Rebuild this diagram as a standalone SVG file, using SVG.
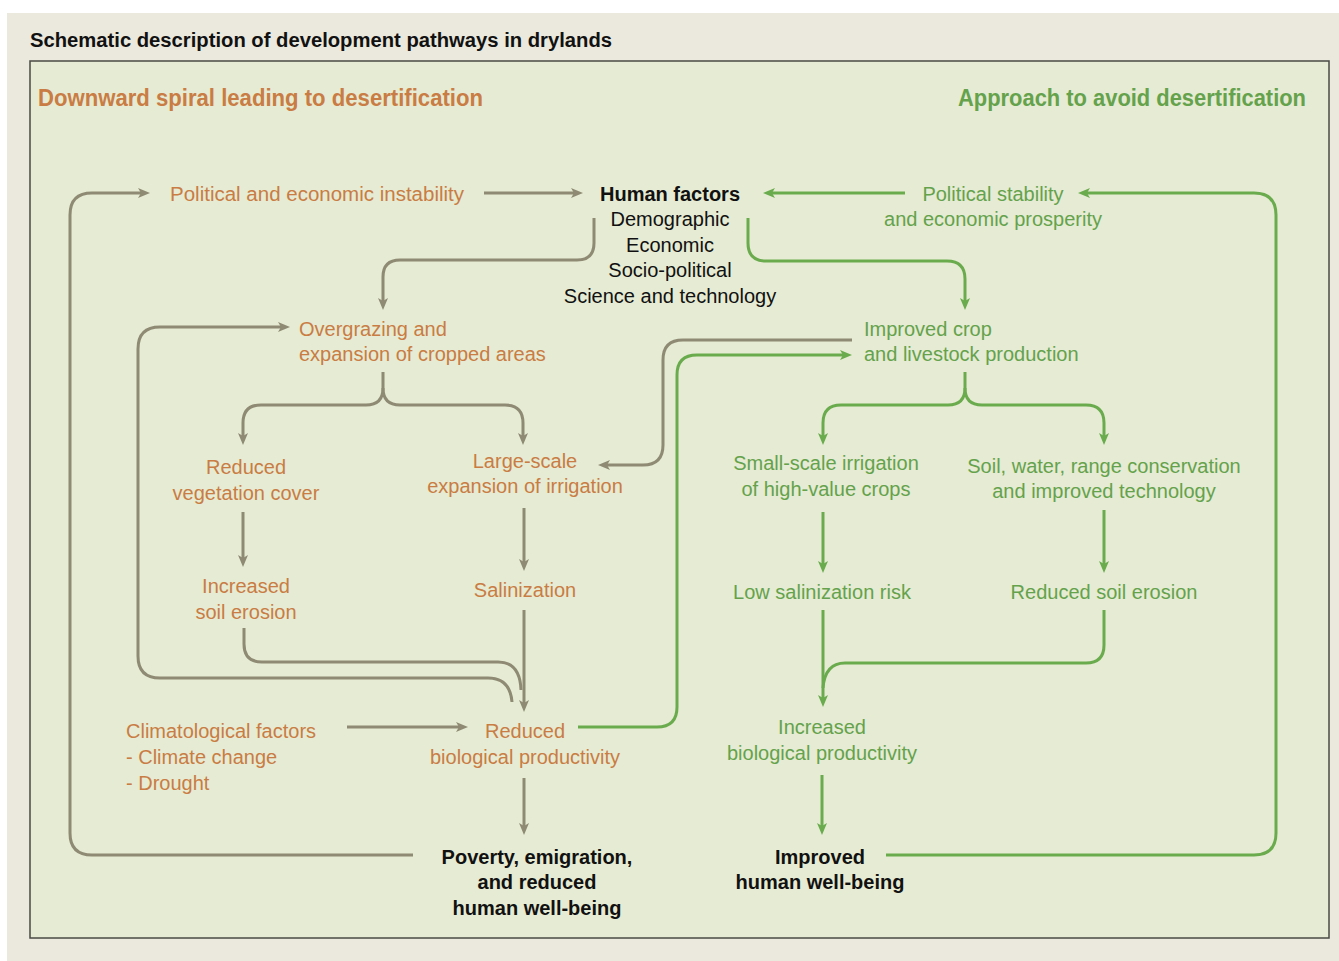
<svg xmlns="http://www.w3.org/2000/svg" width="1339" height="961" viewBox="0 0 1339 961">
<defs>
<style>
.t{font-family:"Liberation Sans",Arial,sans-serif;font-size:20px}
.o{fill:#c97c43}
.gt{fill:#64a24c}
.k{fill:#111}
.b{font-weight:bold}
.m{text-anchor:middle}
.cg{fill:none;stroke:#8e8a73;stroke-width:3}
.cn{fill:none;stroke:#6aab4e;stroke-width:3}
</style>
<marker id="ag" viewBox="0 0 12 10" refX="4" refY="5" markerWidth="12" markerHeight="10" markerUnits="userSpaceOnUse" orient="auto"><path d="M0,0 L12,5 L0,10 L3,5 z" fill="#8e8a73"/></marker>
<marker id="an" viewBox="0 0 12 10" refX="4" refY="5" markerWidth="12" markerHeight="10" markerUnits="userSpaceOnUse" orient="auto"><path d="M0,0 L12,5 L0,10 L3,5 z" fill="#6aab4e"/></marker>
</defs>
<rect x="7" y="13" width="1332" height="948" fill="#ebe9dd"/>
<rect x="30" y="61" width="1299" height="877" fill="#e6ebd3" stroke="#4a4a44" stroke-width="1.5"/>
<text class="t b k" x="30" y="47" textLength="582" lengthAdjust="spacingAndGlyphs">Schematic description of development pathways in drylands</text>
<text class="t b o" x="38" y="106" style="font-size:23px" textLength="445" lengthAdjust="spacingAndGlyphs">Downward spiral leading to desertification</text>
<text class="t b gt" x="958" y="106" style="font-size:23px" textLength="348" lengthAdjust="spacingAndGlyphs">Approach to avoid desertification</text>

<g id="connectors">
<path class="cg" d="M413,855 H92 Q70,855 70,833 V215 Q70,193 92,193 H142" marker-end="url(#ag)"/>
<path class="cg" d="M484,193 H575" marker-end="url(#ag)"/>
<path class="cg" d="M594,218 V243 Q594,260 577,260 H400 Q383,260 383,277 V302" marker-end="url(#ag)"/>
<path class="cg" d="M512,702 Q510,678 488,678 H160 Q138,678 138,656 V349 Q138,327 160,327 H282" marker-end="url(#ag)"/>
<path class="cg" d="M244,628 V644 Q244,662 262,662 H498 Q520,662 521,690"/>
<path class="cg" d="M524,610 V704" marker-end="url(#ag)"/>
<path class="cg" d="M383,372 V388 Q383,405 366,405 H261 Q243,405 243,423 V437" marker-end="url(#ag)"/>
<path class="cg" d="M383,388 Q383,405 400,405 H505 Q523,405 523,423 V437" marker-end="url(#ag)"/>
<path class="cg" d="M243,512 V559" marker-end="url(#ag)"/>
<path class="cg" d="M524,508 V563" marker-end="url(#ag)"/>
<path class="cg" d="M852,340 H683 Q663,340 663,360 V445 Q663,465 643,465 H606" marker-end="url(#ag)"/>
<path class="cg" d="M347,727 H460" marker-end="url(#ag)"/>
<path class="cg" d="M524,778 V827" marker-end="url(#ag)"/>

<path class="cn" d="M905,193 H771" marker-end="url(#an)"/>
<path class="cn" d="M886,855 H1254 Q1276,855 1276,833 V215 Q1276,193 1254,193 H1086" marker-end="url(#an)"/>
<path class="cn" d="M748,218 V243 Q748,261 766,261 H947 Q965,261 965,279 V302" marker-end="url(#an)"/>
<path class="cn" d="M965,372 V388 Q965,405 948,405 H841 Q823,405 823,423 V437" marker-end="url(#an)"/>
<path class="cn" d="M965,388 Q965,405 982,405 H1086 Q1104,405 1104,423 V437" marker-end="url(#an)"/>
<path class="cn" d="M823,512 V565" marker-end="url(#an)"/>
<path class="cn" d="M1104,510 V565" marker-end="url(#an)"/>
<path class="cn" d="M823,610 V699" marker-end="url(#an)"/>
<path class="cn" d="M1104,610 V645 Q1104,663 1086,663 H845 Q825,663 823,688"/>
<path class="cn" d="M822,775 V827" marker-end="url(#an)"/>
<path class="cn" d="M578,727 H657 Q677,727 677,707 V375 Q677,355 697,355 H844" marker-end="url(#an)"/>
</g>

<g id="n-political-instability"><text class="t o" x="170" y="201" textLength="294" lengthAdjust="spacingAndGlyphs">Political and economic instability</text></g>
<g id="n-human-factors">
<text class="t k m b" x="670" y="201">Human factors</text>
<text class="t k m" x="670" y="226">Demographic</text>
<text class="t k m" x="670" y="252">Economic</text>
<text class="t k m" x="670" y="277">Socio-political</text>
<text class="t k m" x="670" y="303">Science and technology</text>
</g>
<g id="n-political-stability">
<text class="t gt m" x="993" y="201">Political stability</text>
<text class="t gt m" x="993" y="226">and economic prosperity</text>
</g>
<g id="n-overgrazing">
<text class="t o" x="299" y="336">Overgrazing and</text>
<text class="t o" x="299" y="361">expansion of cropped areas</text>
</g>
<g id="n-improved-crop">
<text class="t gt" x="864" y="336">Improved crop</text>
<text class="t gt" x="864" y="361">and livestock production</text>
</g>
<g id="n-reduced-vegetation">
<text class="t o m" x="246" y="474">Reduced</text>
<text class="t o m" x="246" y="500">vegetation cover</text>
</g>
<g id="n-large-scale">
<text class="t o m" x="525" y="468">Large-scale</text>
<text class="t o m" x="525" y="493">expansion of irrigation</text>
</g>
<g id="n-small-scale">
<text class="t gt m" x="826" y="470">Small-scale irrigation</text>
<text class="t gt m" x="826" y="496">of high-value crops</text>
</g>
<g id="n-soil-water">
<text class="t gt m" x="1104" y="473">Soil, water, range conservation</text>
<text class="t gt m" x="1104" y="498">and improved technology</text>
</g>
<g id="n-increased-erosion">
<text class="t o m" x="246" y="593">Increased</text>
<text class="t o m" x="246" y="619">soil erosion</text>
</g>
<g id="n-salinization"><text class="t o m" x="525" y="597">Salinization</text></g>
<g id="n-low-salinization"><text class="t gt m" x="822" y="599">Low salinization risk</text></g>
<g id="n-reduced-erosion"><text class="t gt m" x="1104" y="599">Reduced soil erosion</text></g>
<g id="n-climatological">
<text class="t o" x="126" y="738">Climatological factors</text>
<text class="t o" x="126" y="764">- Climate change</text>
<text class="t o" x="126" y="790">- Drought</text>
</g>
<g id="n-reduced-bio">
<text class="t o m" x="525" y="738">Reduced</text>
<text class="t o m" x="525" y="764">biological productivity</text>
</g>
<g id="n-increased-bio">
<text class="t gt m" x="822" y="734">Increased</text>
<text class="t gt m" x="822" y="760">biological productivity</text>
</g>
<g id="n-poverty">
<text class="t k m b" x="537" y="864">Poverty, emigration,</text>
<text class="t k m b" x="537" y="889">and reduced</text>
<text class="t k m b" x="537" y="915">human well-being</text>
</g>
<g id="n-improved-wellbeing">
<text class="t k m b" x="820" y="864">Improved</text>
<text class="t k m b" x="820" y="889">human well-being</text>
</g>
</svg>
